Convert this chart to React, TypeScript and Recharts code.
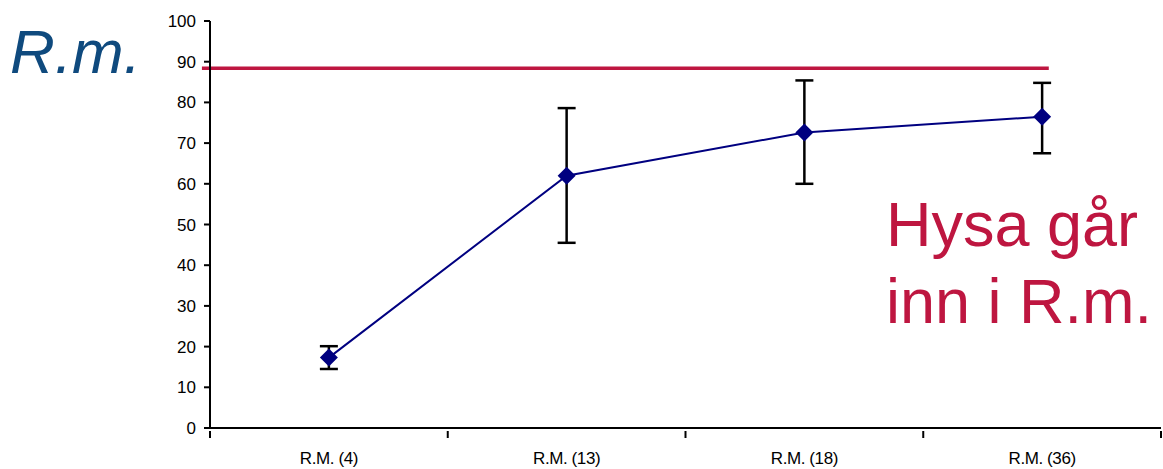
import {
  ComposedChart,
  Line,
  XAxis,
  YAxis,
  ErrorBar,
  ReferenceLine,
} from 'recharts';

const categories = ['R.M. (4)', 'R.M. (13)', 'R.M. (18)', 'R.M. (36)'];
const means = [17.3, 62.0, 72.6, 76.5];
const errLow = [2.8, 16.5, 12.6, 9.0];
const errHigh = [2.8, 16.6, 12.8, 8.3];
const yTicks = [0, 10, 20, 30, 40, 50, 60, 70, 80, 90, 100];
const targetLevel = 88.4;

const chartData = categories.map((name, i) => ({
  x: i + 0.5,
  name,
  value: means[i],
  err: [errLow[i], errHigh[i]],
}));

// boundary ticks at integers, labels at band centres
const xTicks: number[] = [];
for (let i = 0; i <= categories.length; i++) {
  xTicks.push(i);
  if (i < categories.length) xTicks.push(i + 0.5);
}

const font = '"Liberation Sans", Arial, sans-serif';

function XTick(props: any) {
  const { x, y, payload } = props;
  const v = payload.value as number;
  if (Number.isInteger(v)) {
    return <line x1={x} y1={y - 5} x2={x} y2={y + 2} stroke="#000" strokeWidth={2} />;
  }
  const label = categories[Math.floor(v)];
  return (
    <text x={x} y={y + 28} textAnchor="middle" fontSize={17} letterSpacing={-0.4} fontFamily={font} fill="#000">
      {label}
    </text>
  );
}

function Diamond(props: any) {
  const { cx, cy } = props;
  if (cx == null || cy == null) return null;
  const r = 9;
  return (
    <polygon
      points={`${cx},${cy - r} ${cx + r},${cy} ${cx},${cy + r} ${cx - r},${cy}`}
      fill="#000080"
    />
  );
}

export default function App() {
  return (
    <div style={{ position: 'absolute', left: 0, top: 0, width: 1163, height: 469, background: '#fff' }}>
      <ComposedChart
        width={1163}
        height={469}
        data={chartData}
        margin={{ top: 21, right: 2, bottom: 0, left: 0 }}
      >
        <XAxis
          dataKey="x"
          type="number"
          domain={[0, categories.length]}
          ticks={xTicks}
          interval={0}
          height={41}
          axisLine={{ stroke: '#000', strokeWidth: 2 }}
          tickLine={false}
          tick={<XTick />}
        />
        <YAxis
          type="number"
          domain={[0, 100]}
          ticks={yTicks}
          interval={0}
          width={210}
          axisLine={{ stroke: '#000', strokeWidth: 2 }}
          tickLine={{ stroke: '#000', strokeWidth: 2 }}
          tickSize={6}
          tickMargin={8}
          tick={{ fontSize: 17, fontFamily: font, fill: '#000' }}
        />
        <ReferenceLine
          segment={[
            { x: -0.034, y: targetLevel },
            { x: 3.528, y: targetLevel },
          ]}
          ifOverflow="visible"
          stroke="#BE1640"
          strokeWidth={3.5}
        />
        <Line
          dataKey="value"
          stroke="#000080"
          strokeWidth={2}
          dot={<Diamond />}
          activeDot={false}
          isAnimationActive={false}
        >
          <ErrorBar dataKey="err" direction="y" width={9} stroke="#000" strokeWidth={2.5} />
        </Line>
      </ComposedChart>
      <div
        style={{
          position: 'absolute',
          left: 10,
          top: 16,
          fontFamily: font,
          fontStyle: 'italic',
          fontSize: 62,
          lineHeight: '72px',
          color: '#0F4A7E',
        }}
      >
        R.m.
      </div>
      <div
        style={{
          position: 'absolute',
          left: 886,
          top: 186,
          fontFamily: font,
          fontSize: 63,
          lineHeight: '77px',
          color: '#BE1640',
          whiteSpace: 'nowrap',
        }}
      >
        Hysa går
        <br />
        inn i R.m.
      </div>
    </div>
  );
}
